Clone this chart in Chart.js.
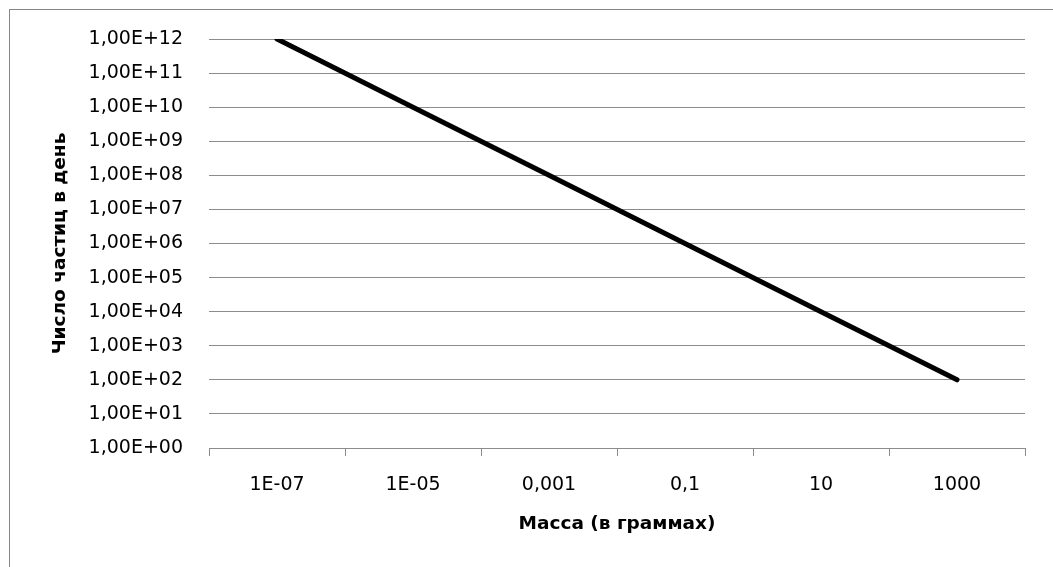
<!DOCTYPE html>
<html>
<head>
<meta charset="utf-8">
<script src="https://cdn.jsdelivr.net/npm/chart.js@4.4.1/dist/chart.umd.min.js"></script>
<style>
  html, body { margin: 0; padding: 0; background: #fff; }
  #wrap { width: 1053px; height: 567px; }
</style>
</head>
<body>
<div id="wrap"><canvas id="chart"></canvas></div>
<script>
// масса частицы (в граммах) -> число частиц в день
const categories = ['1E-07', '1E-05', '0,001', '0,1', '10', '1000'];
const counts = [1e12, 1e10, 1e8, 1e6, 1e4, 1e2];
const yTickValues = [1, 1e1, 1e2, 1e3, 1e4, 1e5, 1e6, 1e7, 1e8, 1e9, 1e10, 1e11, 1e12];
const yTickLabels = ['1,00E+00', '1,00E+01', '1,00E+02', '1,00E+03', '1,00E+04', '1,00E+05',
  '1,00E+06', '1,00E+07', '1,00E+08', '1,00E+09', '1,00E+10', '1,00E+11', '1,00E+12'];

const gridColor = '#8c8c8c';
const tickFont = { family: 'DejaVu Sans', size: 19 };
const titleFont = { family: 'DejaVu Sans', size: 18.5, weight: 'bold' };

const frame = {
    id: 'frame',
    beforeDraw(chart) {
        const ctx = chart.ctx;
        ctx.save();
        ctx.strokeStyle = '#868686';
        ctx.lineWidth = 1;
        ctx.strokeRect(9.5, 9.5, 1100, 600);
        ctx.restore();
    }
};

new Chart(document.getElementById('chart'), {
    type: 'line',
    data: {
        labels: categories,
        datasets: [{
            data: counts,
            borderColor: '#000',
            borderWidth: 5,
            borderCapStyle: 'round',
            pointRadius: 0,
            tension: 0
        }]
    },
    options: {
        responsive: true,
        maintainAspectRatio: false,
        animation: false,
        layout: { padding: { left: 10, right: 28, top: 39, bottom: 20 } },
        plugins: { legend: { display: false }, tooltip: { enabled: false } },
        scales: {
            x: {
                offset: true,
                grid: { offset: true, drawOnChartArea: false, color: gridColor, tickLength: 8 },
                border: { color: gridColor },
                ticks: { font: tickFont, color: '#000', padding: 18, maxRotation: 0 },
                title: { display: true, text: 'Масса (в граммах)', font: titleFont, color: '#000', padding: { top: 0, bottom: 12 } },
                afterFit: s => { s.height = 99; }
            },
            y: {
                type: 'logarithmic',
                min: 1,
                max: 1e12,
                grid: { color: gridColor, drawTicks: false },
                border: { display: false },
                afterBuildTicks: s => { s.ticks = yTickValues.map(v => ({ value: v })); },
                ticks: {
                    font: tickFont,
                    color: '#000',
                    padding: 26,
                    callback: v => yTickLabels[yTickValues.indexOf(v)]
                },
                title: { display: true, text: 'Число частиц в день', font: titleFont, color: '#000', padding: { top: 39, bottom: 0 } },
                afterFit: s => { s.width = 199; }
            }
        }
    },
    plugins: [frame]
});
</script>
</body>
</html>
